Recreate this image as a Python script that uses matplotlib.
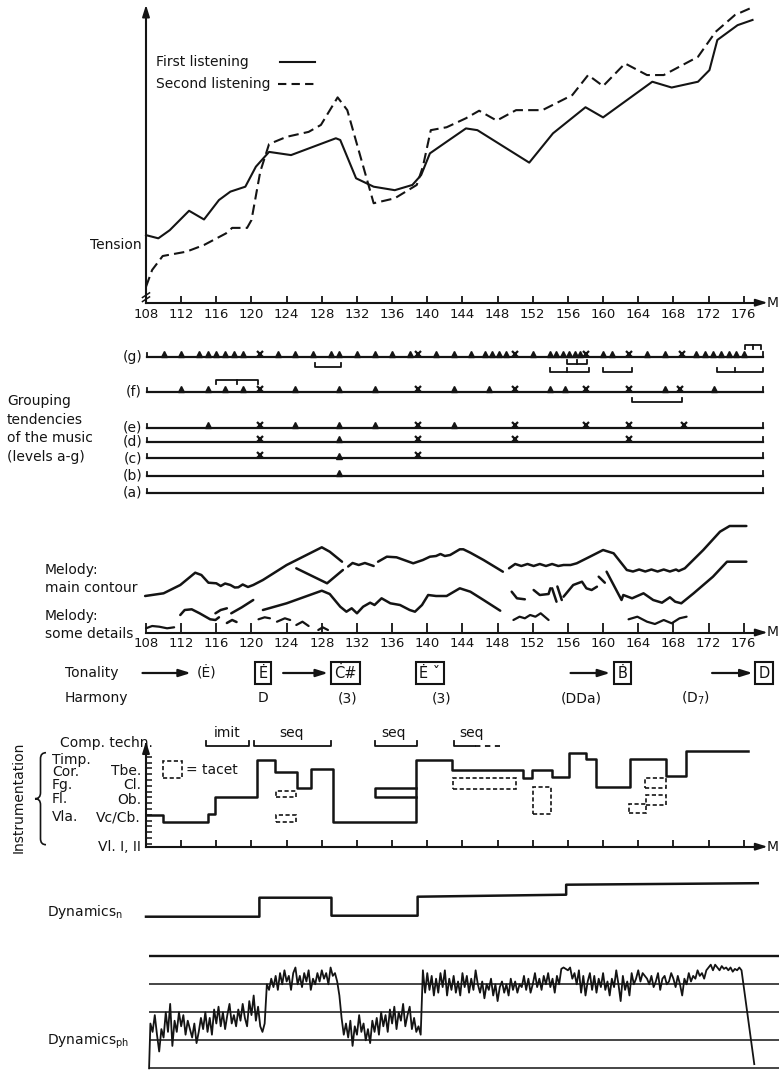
import matplotlib
matplotlib.use('Agg')
import matplotlib.pyplot as plt
from matplotlib.path import Path
import matplotlib.patches as mpatches
import numpy as np

plt.rcParams['font.family'] = ['Liberation Sans Narrow', 'DejaVu Sans']
plt.rcParams['mathtext.default'] = 'regular'
plt.rcParams['font.size'] = 10

INK = '#141414'
W, H = 779, 1070
PX0, PXM = 146.0, 8.79          # pixel of bar 108, pixels per bar
XL, XR = 108 - PX0 / PXM, 108 + (W - PX0) / PXM

# ---------------- data ----------------
bar_ticks = list(range(108, 177, 4))

# tension ratings
tension_first_m = [108, 109.4, 110.7, 112.9, 114.6, 116.3, 117.6, 119.3, 120.5, 122, 124.5, 129.6,
                   130.1, 131.9, 133.9, 136.3, 138.3, 139.3, 140.3, 142.2, 144.4, 145.7, 151.6,
                   154.3, 158, 160, 165.6, 167.8, 170.8, 172.1, 173, 175.3, 177]
tension_first = [23.3, 22.2, 25.0, 31.7, 28.7, 35.4, 38.3, 40.0, 46.9, 52.0, 50.9, 56.7, 56.1,
                 42.9, 40.0, 38.8, 40.6, 44.0, 51.5, 55.5, 60.1, 59.5, 48.3, 58.4, 67.4, 63.9,
                 76.2, 74.2, 76.2, 80.2, 90.6, 95.7, 97.5]
tension_second_m = [108, 108.7, 109.9, 112.6, 114.6, 117.1, 117.8, 119.5, 120, 121, 122, 124,
                    126.5, 127.9, 129.8, 130.9, 133.9, 136.3, 138.8, 139.5, 140.4, 142.2, 144.4,
                    145.9, 147.9, 150.1, 153.1, 156.5, 158.3, 160, 162.5, 165, 166.9, 170.8,
                    172.8, 175, 176.8]
tension_second = [5.5, 11.3, 16.1, 17.6, 19.9, 23.9, 25.8, 25.8, 28.5, 45.2, 54.7, 57.2, 58.9,
                  61.3, 70.8, 66.4, 34.3, 36.0, 40.6, 46.9, 59.5, 60.5, 63.6, 66.2, 62.8, 66.4,
                  66.4, 71.6, 78.5, 74.7, 82.5, 78.5, 78.5, 84.8, 93.4, 99.2, 101.6]

# grouping tendencies: carets and crosses per level
group_levels = ['g', 'f', 'e', 'd', 'c', 'b', 'a']
group_ticks = {
    'g': [110, 112, 114, 115, 116, 117, 118, 119, 123, 125, 127, 129, 130, 132, 134, 136, 138,
          141, 143, 145, 146.6, 147.4, 148.2, 149, 152, 154, 154.7, 155.4, 156.1, 156.8, 157.4,
          160, 161, 165, 167, 170.6, 171.6, 172.5, 173.4, 174.3, 175.1, 176],
    'f': [112, 115, 117, 119, 125, 130, 134, 143, 147, 154, 155.7, 167, 172.6],
    'e': [115, 125, 130, 134, 143],
    'd': [130], 'c': [130], 'b': [130], 'a': [],
}
group_cross = {
    'g': [121, 139, 150, 158, 163, 169],
    'f': [121, 139, 150, 158, 163, 168.7],
    'e': [121, 139, 150, 158, 163, 169.2],
    'd': [121, 139, 150, 163],
    'c': [121, 139], 'b': [], 'a': [],
}
g_brackets = [(127.2, 130.2, None), (155.9, 158.2, 157.0), (154.0, 158.4, 155.9),
              (160.0, 163.3, None), (173.0, 178.2, 175.0)]
f_bracket_above = (116.0, 120.7, 118.3)
f_bracket_below = (163.3, 169.0, None)
g_cap = (176.1, 178.0, 177.0)

# melody contours (pieces of bar, height)
mel_upper = [
    ([107.9, 110.0, 111.9, 113.6, 114.3, 115.1, 116.0, 116.5, 117.0, 117.6, 118.1, 118.5, 119.0,
      119.6, 120.2, 121.3, 124.0, 128.0, 128.9, 130.3],
     [36.5, 39.2, 47.5, 59.8, 57.5, 49.8, 49.2, 46.5, 49.0, 47.5, 45.0, 45.2, 48.0, 45.5, 47.5,
      52.5, 67.5, 85.2, 80.8, 70.8]),
    ([125.1, 128.6, 130.4], [64.2, 49.2, 62.5]),
    ([131.0, 131.5, 132.2, 132.9, 133.9], [66.0, 69.5, 67.5, 69.5, 66.5]),
    ([134.4, 135.4, 136.5, 138.4, 139.5, 140.3, 141.0, 141.5, 142.0, 142.6, 143.7, 144.1, 144.9,
      146.4, 148.6],
     [70.8, 75.8, 75.2, 69.2, 72.5, 75.8, 76.5, 78.5, 76.5, 77.5, 83.2, 83.2, 79.8, 72.5, 60.8]),
    ([149.3, 150.0, 150.7, 151.4, 152.1, 152.8, 153.5, 154.2, 154.9, 155.5, 156.3, 157.0, 158.5,
      160.0, 161.2, 162.7, 163.4, 164.1, 164.8, 165.5, 166.2, 166.9, 167.6, 168.3, 168.6, 169.3,
      171.4, 173.3, 174.4, 176.3],
     [64.2, 68.5, 66.5, 68.5, 66.5, 68.5, 66.5, 68.5, 66.5, 67.5, 67.5, 69.2, 75.8, 82.5, 79.2,
      62.5, 61.0, 63.0, 61.0, 63.0, 61.0, 63.0, 61.0, 63.0, 61.5, 64.2, 82.5, 100.8, 106.5, 106.5]),
]
mel_middle = [
    ([111.9, 112.4, 113.2, 114.1, 115.3, 115.9, 116.3], [17.5, 22.5, 23.2, 19.2, 13.2, 12.5, 15.2]),
    ([115.9, 116.5, 117.2], [19.2, 22.5, 24.2]),
    ([117.2, 117.8, 118.3], [9.5, 12.5, 10.5]),
    ([117.7, 118.9, 120.2], [19.2, 25.2, 32.5]),
    ([121.3, 124.0, 128.0, 128.9, 130.1, 130.8, 131.4, 132.0, 132.7, 133.5, 134.0, 134.8, 135.8,
      136.9, 138.0, 138.6, 139.4, 140.1, 141.0, 142.2, 143.7, 144.9, 146.4, 148.3],
     [22.5, 29.2, 41.8, 38.5, 25.8, 20.8, 24.2, 19.2, 25.8, 29.8, 27.5, 34.2, 29.2, 27.5, 22.5,
      20.8, 27.5, 37.5, 36.5, 36.5, 44.2, 40.8, 32.5, 21.8]),
    ([149.6, 150.2, 151.1], [40.8, 34.2, 33.2]),
    ([152.1, 152.8, 153.8, 154.0], [42.5, 37.5, 38.5, 44.2]),
    ([154.2, 154.7], [44.2, 30.8]),
    ([154.8, 155.3], [46.0, 32.5]),
    ([155.5, 156.6, 157.6, 158.1, 158.7, 159.3], [35.8, 47.5, 50.8, 44.2, 42.5, 45.8]),
    ([159.5, 160.2], [55.8, 49.8]),
    ([160.4, 162.1, 162.3, 163.3, 164.6, 165.7, 166.7, 167.6, 168.2, 168.9, 170.3, 172.5, 174.1,
      176.3],
     [60.8, 32.5, 37.5, 34.2, 39.2, 32.5, 29.8, 35.2, 30.8, 29.2, 39.2, 55.8, 70.8, 70.8]),
]
mel_details = [
    ([108.0, 108.7, 109.5, 110.4, 111.2], [4.2, 6.5, 5.8, 4.2, 5.2]),
    ([120.8, 121.5, 122.1], [13.2, 15.2, 14.2]),
    ([122.9, 123.8, 124.4], [10.8, 14.2, 12.5]),
    ([125.1, 125.8, 126.5], [7.5, 10.8, 6.5]),
    ([127.6, 128.1, 128.7], [2.5, 5.2, 2.5]),
    ([149.8, 150.5, 151.1, 151.7, 152.3, 152.9, 153.8], [12.5, 15.8, 14.2, 17.5, 15.8, 19.2, 12.5]),
    ([162.9, 163.9, 165.0, 165.9, 166.9, 167.8, 168.7, 169.5],
     [13.2, 15.8, 10.8, 8.5, 12.5, 9.2, 14.2, 15.8]),
]

# tonality and harmony
tonality_arrows = [(107.6, 113.1), (123.6, 128.7), (156.3, 160.8), (172.4, 177.0)]
tonality_free_m, tonality_free = [114.9], ['(Ė)']
tonality_keys_m = [121.3, 130.7, 140.3, 162.2, 178.3]
tonality_keys = ['Ė', 'Ċ#', 'Ė ˇ', 'Ḃ', 'D']
harmony_m = [121.3, 130.9, 141.6, 157.5, 170.5]
harmony = ['D', '(3)', '(3)', '(DDa)', '(D$_7$)']

# compositional technique
comp_labels = ['imit', 'seq', 'seq', 'seq']
comp_spans = [(114.8, 119.7), (120.3, 129.1), (134.0, 138.8), (143.0, 148.3)]
comp_label_m = [117.2, 124.6, 136.2, 145.0]
comp_dashed_from = 145.4            # last bracket continues dashed

# instrumentation (number of parts as height)
inst_m = [108, 109.9, 115.0, 115.8, 120.6, 122.7, 125.2, 126.8, 129.3, 138.75, 142.8, 150.9,
          151.95, 154.15, 156.1, 158.0, 159.15, 163.1, 167.2, 169.4, 176.5]
inst_h = [32, 25, 33, 50, 87, 75, 59, 78, 25, 87, 77, 69, 77, 70, 94, 88, 60, 88, 71, 96, 96]
seq_box = (134.0, 138.75, 50, 59)
tacet_boxes = [(122.8, 125.1, 50, 55.7), (122.8, 125.1, 25, 31.7), (142.9, 150.1, 57.7, 68.4),
               (152.0, 154.1, 32.4, 60), (164.8, 167.2, 58.4, 68.4), (164.9, 167.2, 41.7, 51.7),
               (163.0, 164.9, 33.4, 42.4)]
inst_left = ['Timp.', 'Cor.', 'Fg.', 'Fl.', 'Vla.']
inst_right = ['Tbe.', 'Cl.', 'Ob.', 'Vc/Cb.', 'Vl. I, II']

# notated dynamics
dyn_n_m = [108, 120.9, 120.9, 129.1, 129.1, 138.9, 138.9, 155.8, 155.8, 177.6]
dyn_n = [0, 0, 19, 19, 1, 1, 20, 22, 32, 33.5]

# physical dynamics, read every quarter bar from 108.5 to 175.75
dyn_ph_vals = [
    1.6, 1.3,
    1.9, 1.2, 0.6, 1.4,   1.1, 2.0, 1.3, 2.3,   0.8, 1.7, 1.3, 2.0,   1.5, 1.9, 1.2, 1.7,
    1.4, 1.1, 1.6, 0.9,   1.3, 1.8, 1.4, 2.0,   1.3, 1.8, 1.2, 2.1,   1.6, 2.2, 1.5, 2.0,
    1.4, 1.9, 2.3, 1.6,   1.9, 1.5, 2.1, 1.7,   2.3, 1.8, 1.5, 2.4,   1.9, 2.6, 1.7, 2.2,
    1.5, 1.3, 1.6, 3.0,   2.8, 3.2, 2.9, 3.3,   2.8, 3.4, 3.0, 3.5,   3.1, 3.3, 2.8, 3.4,
    3.6, 3.0, 3.3, 2.9,   3.4, 3.1, 3.5, 2.8,   3.2, 3.0, 3.4, 3.1,   3.5, 3.2, 3.4, 3.0,
    3.6, 3.3, 3.4, 3.1,   2.6, 1.8, 1.2, 1.6,   1.1, 1.7, 0.8, 1.5,   1.2, 1.9, 1.3, 1.6,
    1.0, 1.4, 0.9, 1.7,   1.3, 1.8, 1.2, 2.0,   1.5, 1.9, 1.3, 2.1,   1.6, 2.2, 1.4, 2.0,
    1.7, 2.3, 1.5, 1.9,   2.2, 1.4, 1.8, 1.3,   1.5, 1.2, 3.5, 2.7,   3.4, 2.8, 3.3, 2.6,
    3.2, 2.7, 3.4, 2.9,   3.5, 2.6, 3.2, 2.8,   3.3, 2.7, 3.1, 2.6,   3.4, 2.9, 3.3, 2.7,
    3.2, 2.8, 3.5, 3.0,   2.7, 3.1, 2.5, 3.0,   2.8, 3.2, 2.6, 3.0,   2.4, 2.9, 3.1, 2.7,
    3.0, 2.6, 3.2, 2.8,   3.1, 2.7, 3.0, 2.9,   3.3, 2.8, 3.2, 2.7,   3.0, 3.4, 2.9, 3.2,
    2.8, 3.3, 3.0, 3.4,   2.9, 3.2, 2.7, 3.3,   3.0, 3.55, 3.6, 3.55, 3.5, 3.6, 3.2, 3.4,
    3.0, 3.5, 2.7, 3.3,   2.6, 3.1, 3.4, 2.8,   3.3, 2.7, 3.2, 2.9,   3.4, 2.8, 3.1, 2.6,
    3.2, 2.9, 3.5, 3.0,   2.4, 3.3, 2.8, 3.1,   2.6, 3.4, 3.0, 3.2,   3.5, 3.1, 3.4, 3.3,
    3.2, 3.0, 3.3, 2.9,   3.1, 3.4, 2.8, 3.2,   3.3, 3.0, 3.1, 3.4,   3.2, 2.9, 3.3, 3.0,
    2.6, 3.2, 3.0, 3.4,   3.1, 3.3, 3.2, 3.5,   3.3, 3.4, 3.2, 3.5,   3.6, 3.7, 3.5, 3.7,
    3.6, 3.5, 3.65, 3.55, 3.6, 3.5, 3.6, 3.45,  3.55, 3.5, 3.6, 3.5,
]
dyn_ph_start, dyn_ph_end = (108.35, 0.0), (177.2, 0.15)


# ---------------- drawing helpers ----------------
def px2m(px):
    return 108 + (px - PX0) / PXM


fig = plt.figure(figsize=(W / 100, H / 100), dpi=100)


def panel(top, bottom, ylo, yhi):
    ax = fig.add_axes([0, 1 - bottom / H, 1, (bottom - top) / H])
    ax.set_xlim(XL, XR)
    ax.set_ylim(ylo, yhi)
    for s in ax.spines.values():
        s.set_visible(False)
    ax.set_xticks([])
    ax.set_yticks([])
    ax.patch.set_visible(False)
    return ax


def arrow(ax, x0, y0, x1, y1, lw=1.3):
    ax.annotate('', xy=(x1, y1), xytext=(x0, y0),
                arrowprops=dict(arrowstyle='-|>,head_length=0.7,head_width=0.22',
                                lw=lw, color=INK, shrinkA=0, shrinkB=0))


def bar_axis(ax, labels=True, tick_len=5):
    sp = ax.spines['bottom']
    sp.set_visible(True)
    sp.set_position(('data', 0))
    sp.set_bounds(108, 178)
    sp.set_linewidth(1.5)
    sp.set_color(INK)
    ax.set_xticks(bar_ticks)
    ax.tick_params(axis='x', direction='in', length=tick_len, width=1.3, color=INK,
                   labelsize=9.5, labelcolor=INK, pad=3, labelbottom=labels)
    arrow(ax, 177.6, 0, 178.7, 0)
    ax.text(px2m(773), 0, 'M', ha='center', va='center', fontsize=10, color=INK)


def bracket(ax, m0, m1, y, tick, mid=None, lw=1.3, **kw):
    ax.plot([m0, m0, m1, m1], [y + tick, y, y, y + tick], color=INK, lw=lw, **kw)
    if mid is not None:
        ax.plot([mid, mid], [y, y + tick], color=INK, lw=lw)


# ---------------- tension ----------------
ax = panel(0, 322, (302.7 - 322) / 2.9, 302.7 / 2.9)
ax.plot(tension_first_m, tension_first, color=INK, lw=1.5)
ax.plot(tension_second_m, tension_second, color=INK, lw=1.5, ls=(0, (5, 2.5)))
bar_axis(ax)
ax.tick_params(axis='x', pad=4)
sp = ax.spines['left']
sp.set_visible(True)
sp.set_position(('data', 108))
sp.set_bounds(0, 100)
sp.set_linewidth(1.5)
sp.set_color(INK)
arrow(ax, 108, 99.5, 108, 102.7)
# axis break mark
for dy in (1.2, 2.6):
    ax.plot([107.6, 108.4], [dy - 0.8, dy + 0.8], color=INK, lw=1.1, zorder=5)
ax.text(px2m(142), 19.9, 'Tension', ha='right', va='center', color=INK)
ax.text(px2m(156.5), 83.1, 'First listening', ha='left', va='center', color=INK)
ax.text(px2m(156.5), 75.4, 'Second listening', ha='left', va='center', color=INK)
ax.plot([px2m(280), px2m(315)], [83.1, 83.1], color=INK, lw=1.5)
ax.plot([px2m(278), px2m(315)], [75.4, 75.4], color=INK, lw=1.5, ls=(0, (4, 2.5)))

# ---------------- grouping ----------------
ax = panel(335, 505, 505, 335)
row_y = dict(zip(group_levels, [356.5, 391.5, 427.5, 441.5, 458, 475.5, 492.5]))
for lev in group_levels:
    y = row_y[lev]
    ax.plot([108.1, 178.2], [y, y], color=INK, lw=1.6)
    ax.plot([108.1, 108.1], [y, y - 4], color=INK, lw=1.3)
    ax.plot([178.2, 178.2], [y, y - 5], color=INK, lw=1.3)
    t = group_ticks[lev]
    ax.plot(t, [y - 2.2] * len(t), ls='none', marker='^', ms=3.8, color=INK)
    c = group_cross[lev]
    ax.plot(c, [y - 2.8] * len(c), ls='none', marker='x', ms=5, mew=1.6, color=INK)
    ax.text(px2m(142), y, f'({lev})', ha='right', va='center', color=INK)
for (m0, m1, mid), y in zip(g_brackets, [366.5, 363.5, 371.5, 371.5, 371.5]):
    bracket(ax, m0, m1, y, -4, mid)
bracket(ax, *f_bracket_above[:2], 380, 4, f_bracket_above[2])
bracket(ax, *f_bracket_below[:2], 401.5, -4, f_bracket_below[2])
bracket(ax, *g_cap[:2], 345, 4, g_cap[2])
ax.text(px2m(7), 429, 'Grouping\ntendencies\nof the music\n(levels a-g)', ha='left',
        va='center', linespacing=1.4, color=INK)

# ---------------- melody, tonality, harmony ----------------
ax = panel(505, 715, -82.5, 127.5)
for pieces, lw in [(mel_upper, 1.8), (mel_middle, 1.8), (mel_details, 1.6)]:
    for m, h in pieces:
        ax.plot(m, h, color=INK, lw=lw, solid_capstyle='round', solid_joinstyle='round')
bar_axis(ax, tick_len=7)
ax.text(px2m(45), 632.5 - 579, 'Melody:\nmain contour', ha='left', va='center',
        linespacing=1.45, color=INK)
ax.text(px2m(45), 632.5 - 625, 'Melody:\nsome details', ha='left', va='center',
        linespacing=1.35, color=INK)
ax.text(px2m(65), -40, 'Tonality', ha='left', va='center', color=INK)
ax.text(px2m(65), -65.5, 'Harmony', ha='left', va='center', color=INK)
for m0, m1 in tonality_arrows:
    arrow(ax, m0, -40.5, m1, -40.5, lw=1.6)
for m, s in zip(tonality_free_m, tonality_free):
    ax.text(m, -40.5, s, ha='center', va='center', color=INK)
for m, s in zip(tonality_keys_m, tonality_keys):
    ax.text(m, -40.5, s, ha='center', va='center', color=INK, fontsize=10.5,
            bbox=dict(boxstyle='square,pad=0.22', fc='white', ec=INK, lw=1.5))
for m, s in zip(harmony_m, harmony):
    ax.text(m, -65.5, s, ha='center', va='center', color=INK)

# ---------------- instrumentation ----------------
ax = panel(715, 860, -13.3, 131.7)
ax.step(inst_m, inst_h, where='post', color=INK, lw=1.8)
b0, b1, h0, h1 = seq_box
ax.plot([b1, b0, b0, b1], [h0, h0, h1, h1], color=INK, lw=1.8)
for m0, m1, y0, y1 in tacet_boxes:
    ax.add_patch(mpatches.Rectangle((m0, y0), m1 - m0, y1 - y0, fill=False, ec=INK,
                                    lw=1.2, ls=(0, (2.5, 1.5))))
ax.add_patch(mpatches.Rectangle((109.9, 68.7), 2.2, 16.6, fill=False, ec=INK, lw=1.2,
                                ls=(0, (2.5, 1.5))))
ax.text(112.5, 77, '= tacet', ha='left', va='center', color=INK)
bar_axis(ax, labels=False)
sp = ax.spines['left']
sp.set_visible(True)
sp.set_position(('data', 108))
sp.set_bounds(0, 102)
sp.set_linewidth(1.5)
sp.set_color(INK)
ax.set_yticks(np.arange(3, 91, 5.8))
ax.tick_params(axis='y', direction='in', length=4, width=1.1, color=INK, labelleft=False)
arrow(ax, 108, 101, 108, 105.3)
for (m0, m1), lab, lm in zip(comp_spans, comp_labels, comp_label_m):
    if (m0, m1) == comp_spans[-1]:
        ax.plot([m0, m0, comp_dashed_from], [106, 101, 101], color=INK, lw=1.3)
        ax.plot([comp_dashed_from, m1], [101, 101], color=INK, lw=1.3, ls=(0, (3, 2.5)))
    else:
        bracket(ax, m0, m1, 101, 5)
    ax.text(lm, 113.7, lab, ha='center', va='center', color=INK)
ax.text(px2m(60), 103.7, 'Comp. techn.', ha='left', va='center', color=INK)
for s, y in zip(inst_left, [87, 75, 61.5, 47.5, 30]):
    ax.text(px2m(52), y, s, ha='left', va='center', color=INK)
for s, y in zip(inst_right, [76, 62, 47, 29, 0]):
    ax.text(px2m(141), y, s, ha='right', va='center', color=INK)
ax.text(px2m(19), 49, 'Instrumentation', rotation=90, ha='center', va='center', color=INK)
xe, xb, xt = px2m(46), px2m(40.5), px2m(35)
top, bot, mid, r = 94, 2, 48, 6
brace = Path([(xe, top), (xb, top), (xb, top - r), (xb, mid + r), (xb, mid), (xt, mid),
              (xb, mid), (xb, mid - r), (xb, bot + r), (xb, bot), (xe, bot)],
             [Path.MOVETO, Path.CURVE3, Path.CURVE3, Path.LINETO, Path.CURVE3, Path.CURVE3,
              Path.CURVE3, Path.CURVE3, Path.LINETO, Path.CURVE3, Path.CURVE3])
ax.add_patch(mpatches.PathPatch(brace, fill=False, ec=INK, lw=1.2))

# ---------------- notated dynamics ----------------
ax = panel(860, 935, -18.3, 56.7)
ax.plot(dyn_n_m, dyn_n, color=INK, lw=1.8)
ax.text(px2m(47), 4.7, 'Dynamics$_n$', ha='left', va='center', color=INK)

# ---------------- physical dynamics ----------------
ax = panel(935, 1070, -0.06, 4.76)
ax.hlines([0, 1, 2, 3], 108.3, XR, color=INK, lw=1.1)
ax.hlines([4], 108.3, XR, color=INK, lw=1.7)
ph_m = np.concatenate([[dyn_ph_start[0]], np.arange(108.5, 176, 0.25), [dyn_ph_end[0]]])
ph_v = np.concatenate([[dyn_ph_start[1]], dyn_ph_vals, [dyn_ph_end[1]]])
ax.plot(ph_m, ph_v, color=INK, lw=1.3)
ax.text(px2m(47), 0.97, 'Dynamics$_{ph}$', ha='left', va='center', color=INK)

fig.savefig('out.png', dpi=100)
